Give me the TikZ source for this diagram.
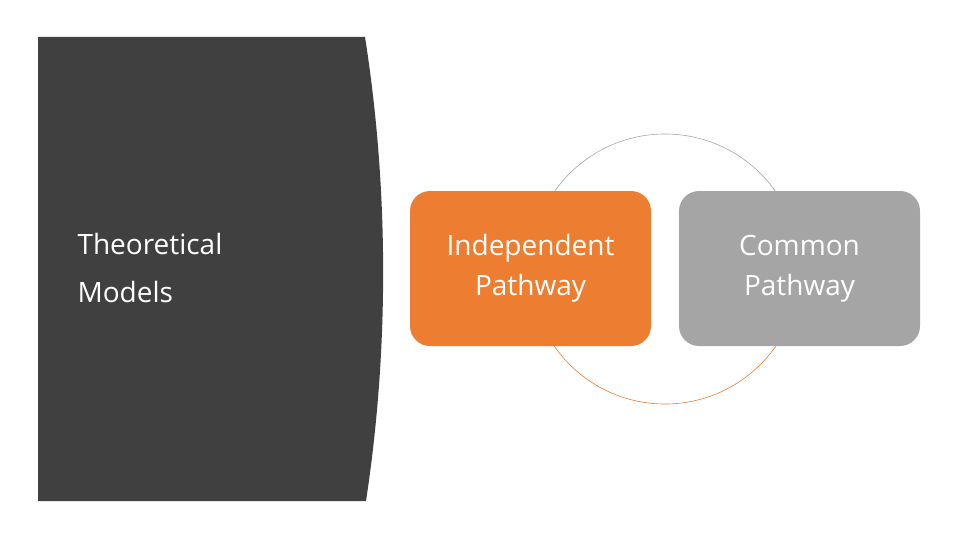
\documentclass[tikz,border=0pt]{standalone}
\usepackage{fontspec}
\setmainfont{Open Sans}
\definecolor{dark}{HTML}{404040}
\definecolor{orng}{HTML}{ED7D31}
\definecolor{gry}{HTML}{A5A5A5}
\begin{document}
\begin{tikzpicture}[x=1pt,y=-1pt,
  box/.style={rounded corners=20pt,minimum width=241pt,minimum height=155pt,inner sep=0pt,text=white,align=center,font=\fontsize{28}{40}\selectfont}]
\useasboundingbox (0,0) rectangle (960,540);
\fill[dark] (38,37) -- (365,37) .. controls (389,190) and (389,350) .. (366,501) -- (38,501) -- cycle;
\draw[orng!80!brown,line width=0.6pt] (530,269) arc[start angle=180,end angle=0,radius=135];
\draw[gry,line width=0.6pt] (530,269) arc[start angle=180,end angle=360,radius=135];
\node[box,fill=orng] (ind) at (530.5,268.5) {Independent\\Pathway};
\node[box,fill=gry] (com) at (799.5,268.5) {Common\\Pathway};
\node[anchor=west,align=left,text=white,font=\fontsize{28}{48}\selectfont] (title) at (74,268) {Theoretical\\Models};
\end{tikzpicture}
\end{document}
